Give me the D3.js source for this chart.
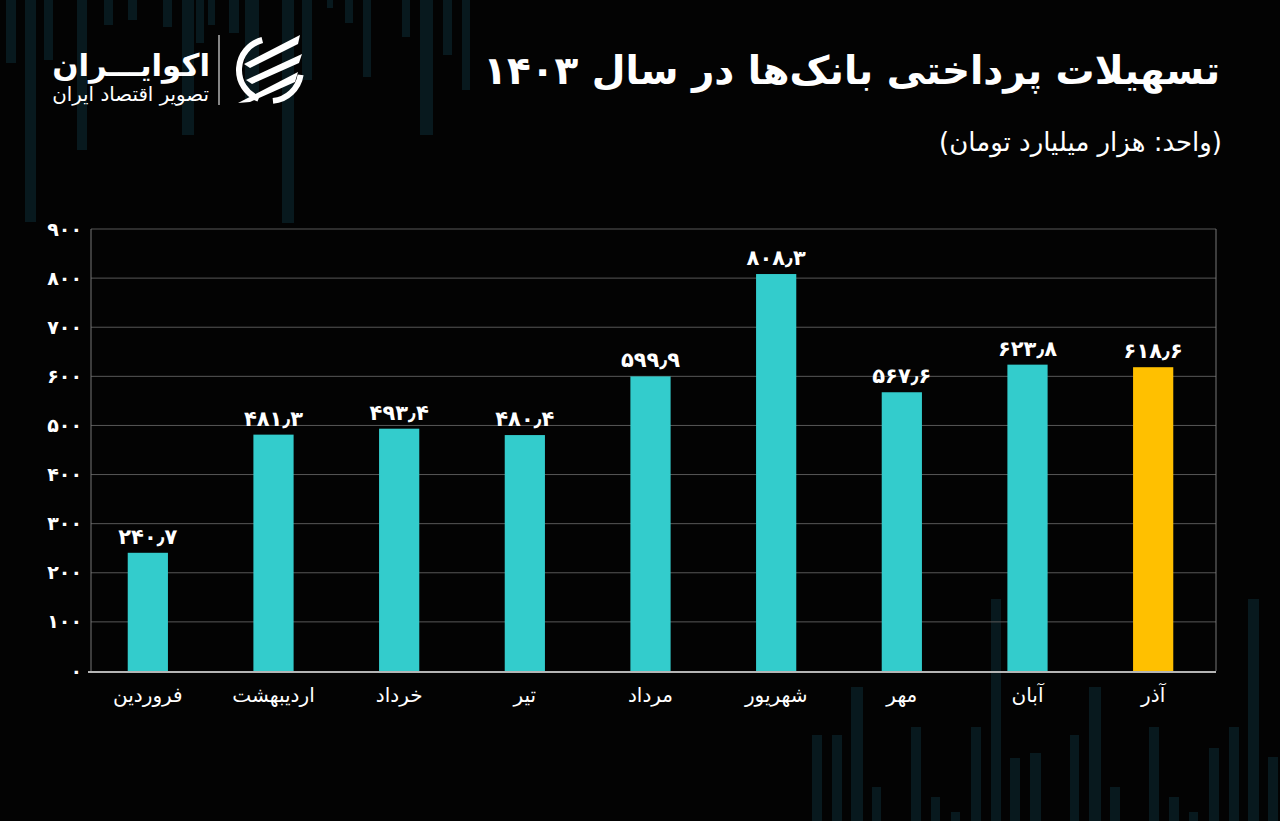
<!DOCTYPE html>
<html>
<head>
<meta charset="utf-8">
<script src="https://cdn.jsdelivr.net/npm/d3@7/dist/d3.min.js"></script>
<style>
  html, body { margin: 0; padding: 0; background: #030303; }
  svg { display: block; }
  text { font-family: "DejaVu Sans", "Noto Sans", sans-serif; fill: #fff; }
</style>
</head>
<body>
<svg id="chart" width="1280" height="821"></svg>
<script>
// ---- data ----
const months = ["فروردین", "اردیبهشت", "خرداد", "تیر", "مرداد", "شهریور", "مهر", "آبان", "آذر"];
const values = [240.7, 481.3, 493.4, 480.4, 599.9, 808.3, 567.6, 623.8, 618.6];
const highlightMonth = "آذر";
const yTicks = [0, 100, 200, 300, 400, 500, 600, 700, 800, 900];
const titleText = "تسهیلات پرداختی بانک‌ها در سال ۱۴۰۳";
const subtitleText = "\u200F(واحد: هزار میلیارد تومان)\u200F";
const brandName = "اکوایـــران";
const brandTag = "تصویر اقتصاد ایران";

// decorative background bars: [x, width, length]
const decoTop = [[6,10,63],[25,11,222],[44,9,60],[77,10,150],[104,9,25],[128,9,20],[163,9,27],[182,12,135],[196,8,43],[208,7,25],[229,10,33],[245,14,100],[282,12,223],[302,10,80],[327,6,8],[345,8,23],[363,8,77],[402,8,37],[420,13,135],[443,9,55],[462,8,90]];
const decoBottom = [[812,10,86],[832,10,86],[851,12,134],[872,9,34],[911,10,94],[931,9,24],[951,9,9],[971,10,94],[991,10,222],[1010,10,63],[1030,11,68],[1070,9,86],[1089,12,134],[1110,10,34],[1149,10,94],[1169,10,24],[1189,9,9],[1209,10,73],[1229,10,94],[1248,11,222],[1268,10,64]];

const faDigits = "۰۱۲۳۴۵۶۷۸۹";
const toFa = s => String(s).replace(/[0-9]/g, d => faDigits[+d]).replace(".", "٫");

const svg = d3.select("#chart");
svg.append("rect").attr("width", 1280).attr("height", 821).attr("fill", "#030303");

// decoration
const deco = svg.append("g");
deco.selectAll("rect.t").data(decoTop).join("rect")
  .attr("x", d => d[0]).attr("y", 0).attr("width", d => d[1]).attr("height", d => d[2])
  .attr("fill", "#08191e");
deco.selectAll("rect.b").data(decoBottom).join("rect")
  .attr("x", d => d[0]).attr("y", d => 821 - d[2]).attr("width", d => d[1]).attr("height", d => d[2])
  .attr("fill", "#08191e");

// fit helper
function fit(sel, targetW, maxSize) {
  let fs = maxSize;
  sel.style("font-size", fs + "px");
  const w = sel.node().getComputedTextLength();
  if (w > 0) fs = fs * targetW / w;
  sel.style("font-size", fs + "px");
}

// title
const title = svg.append("text").attr("x", 1220).attr("y", 84).attr("text-anchor", "end")
  .style("font-weight", "bold").text(titleText);
fit(title, 737, 38);
const sub = svg.append("text").attr("x", 1222).attr("y", 151).attr("text-anchor", "end")
  .text(subtitleText);
fit(sub, 283, 22);

// brand
const b1 = svg.append("text").attr("x", 210).attr("y", 76).attr("text-anchor", "end")
  .style("font-weight", "bold").text(brandName);
fit(b1, 158, 36);
const b2 = svg.append("text").attr("x", 209).attr("y", 101).attr("text-anchor", "end")
  .text(brandTag);
fit(b2, 157, 17);
svg.append("line").attr("x1", 219).attr("x2", 219).attr("y1", 35).attr("y2", 105)
  .attr("stroke", "#ddd").attr("stroke-width", 1.2);

// icon
const icon = svg.append("g").attr("transform", "translate(270,70)");
const ring = d3.arc().innerRadius(28).outerRadius(34);
icon.append("path").attr("d", ring({startAngle: Math.PI * 1.12, endAngle: Math.PI * 1.92})).attr("fill", "#fff");
icon.append("path").attr("d", ring({startAngle: Math.PI * 0.55, endAngle: Math.PI * 0.97})).attr("fill", "#fff");
const stripes = [
  [[-26,-6],[30,-35],[28,-26],[-20,-2]],
  [[-24,10],[32,-16],[29,-7],[-18,14]],
  [[-32,33],[28,2],[25,12],[-20,32]]
];
icon.selectAll("path.s").data(stripes).join("path")
  .attr("d", d => "M" + d.map(p => p.join(",")).join("L") + "Z").attr("fill", "#fff");

// scales
const x = d3.scaleBand().domain(months).range([85, 1216]).paddingInner(0.68).paddingOuter(0.34);
const y = d3.scaleLinear().domain([0, 900]).range([671, 229]);

// grid
svg.append("g").selectAll("line").data(yTicks.filter(t => t > 0)).join("line")
  .attr("x1", 91).attr("x2", 1216).attr("y1", d => y(d)).attr("y2", d => y(d))
  .attr("stroke", "#585858").attr("stroke-width", 1);
svg.append("line").attr("x1", 91).attr("x2", 91).attr("y1", y(900)).attr("y2", y(0))
  .attr("stroke", "#777").attr("stroke-width", 1);
svg.append("line").attr("x1", 1216).attr("x2", 1216).attr("y1", y(900)).attr("y2", y(0))
  .attr("stroke", "#777").attr("stroke-width", 1);

// y axis labels
const yAxis = d3.axisLeft(y).tickValues(yTicks).tickFormat(d => toFa(d)).tickSize(0).tickPadding(9);
const yg = svg.append("g").attr("transform", "translate(91,0)").call(yAxis);
yg.select(".domain").remove();
yg.selectAll("text").attr("fill", "#fff").style("fill", "#fff")
  .style("font-size", "19px").style("font-weight", "bold")
  .style("font-family", "'DejaVu Sans', sans-serif");

// bars
svg.append("g").selectAll("rect").data(months).join("rect")
  .attr("x", d => x(d)).attr("width", x.bandwidth())
  .attr("y", (d, i) => y(values[i])).attr("height", (d, i) => y(0) - y(values[i]))
  .attr("fill", d => d === highlightMonth ? "#FFC000" : "#33CCCC");

// value labels
svg.append("g").selectAll("text").data(months).join("text")
  .attr("x", d => x(d) + x.bandwidth() / 2)
  .attr("y", (d, i) => y(values[i]) - 9)
  .attr("text-anchor", "middle")
  .style("font-size", "21px").style("font-weight", "bold")
  .text((d, i) => toFa(values[i]));

// x axis
const xAxis = d3.axisBottom(x).tickSize(0).tickPadding(16);
const xg = svg.append("g").attr("transform", "translate(0,672)").call(xAxis);
xg.select(".domain").remove();
xg.selectAll("text").style("fill", "#fff").style("font-size", "20px")
  .style("font-family", "'DejaVu Sans', sans-serif");
svg.append("line").attr("x1", 88).attr("x2", 1216).attr("y1", 672).attr("y2", 672)
  .attr("stroke", "#b5b5b5").attr("stroke-width", 2);
</script>
</body>
</html>
